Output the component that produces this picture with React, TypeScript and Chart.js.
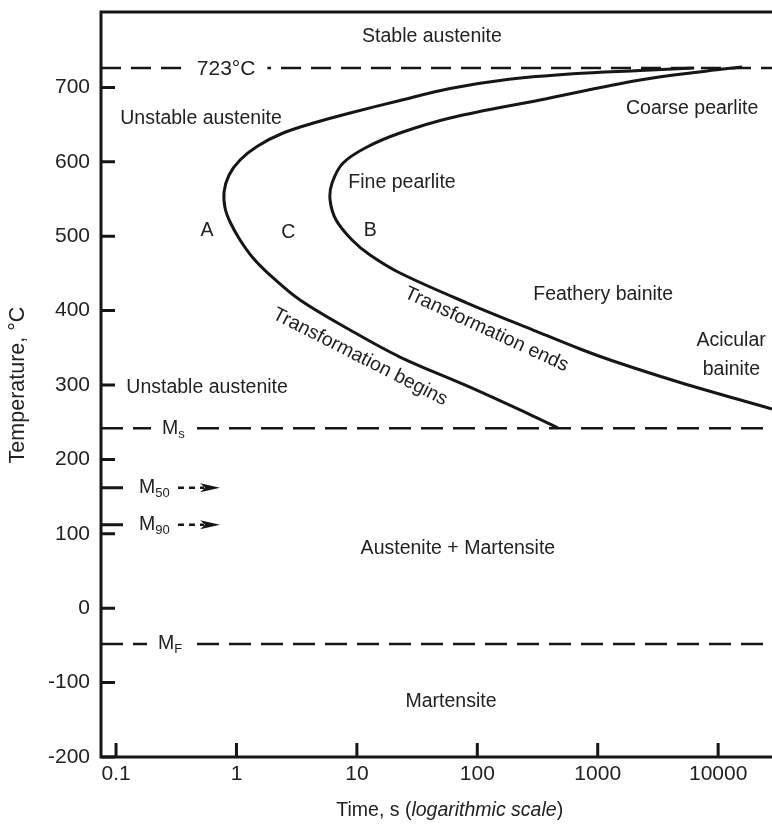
import React, { useEffect, useRef } from 'react';
import { Chart, registerables } from 'chart.js';

Chart.register(...registerables);

const FONT = '"Liberation Sans", Arial, Helvetica, sans-serif';
const INK = '#161616';
const TEXT = '#222222';

// ---- axis ranges & ticks ----
const X_MIN = 0.075;
const X_MAX = 28000;
const Y_MIN = -200;
const Y_MAX = 800;
const xTickValues = [0.1, 1, 10, 100, 1000, 10000];
const xTickLabels = ['0.1', '1', '10', '100', '1000', '10000'];
const yTickValues = [-200, -100, 0, 100, 200, 300, 400, 500, 600, 700];

// ---- transformation begins curve (time s, temperature °C) ----
const beginTime = [6320, 2250, 625, 177, 59.4, 22.8, 8.78, 4.67, 2.44, 1.48, 1.071, 0.868, 0.789, 0.804, 0.885, 1.071, 1.374, 1.9, 3.375, 8.78, 22.8, 82.3, 291, 469];
const beginTemp = [726.1, 722.7, 718.3, 710.6, 698.5, 682.4, 665.6, 653.5, 638.7, 620.6, 602.4, 582.3, 559.4, 537.9, 519.1, 494.9, 470.7, 447.8, 414.2, 373.9, 337.6, 298.7, 258.3, 242.2];

// ---- transformation ends curve ----
const endTime = [15820, 8100, 2250, 332, 59.4, 22.8, 12.15, 7.68, 6.22, 5.99, 6.72, 9.12, 12.87, 22.8, 82.3, 291, 714, 1342, 4834, 28000];
const endTemp = [727.4, 722, 709.9, 683.1, 658.9, 638.7, 619.9, 598.4, 571.5, 548.7, 521.8, 494.9, 474.7, 450.5, 410.2, 373.9, 348.4, 332.3, 303.4, 267.7];

// ---- characteristic temperatures ----
const eutectoidTemp = 726; // drawn line labelled 723 °C
const eutectoidLabel = '723°C';
const msTemp = 242;
const mfTemp = -48;
const m50Temp = 162;
const m90Temp = 112;

// ---- region labels (time, temperature) ----
const regionText = ['Stable austenite', 'Unstable austenite', 'Coarse pearlite', 'Fine pearlite', 'A', 'C', 'B', 'Feathery bainite', 'Acicular', 'bainite', 'Unstable austenite', 'Austenite + Martensite', 'Martensite'];
const regionTime = [42, 0.508, 6080, 23.7, 0.57, 2.69, 12.9, 1110, 12800, 12900, 0.57, 69, 60.5];
const regionTemp = [768, 657.5, 672, 571.5, 508, 505, 508, 421, 359, 320, 296, 80, -125];

// rotated curve labels
const curveText = ['Transformation ends', 'Transformation begins'];
const curveTime = [119, 10.6];
const curveTemp = [374.6, 337.6];
const curveAngle = [24.7, 27];

// martensite labels: main, sub, left time, temperature, has line
const mMain = ['M', 'M', 'M', 'M'];
const mSub = ['s', '50', '90', 'F'];
const mTime = [0.241, 0.155, 0.155, 0.223];
const mTemp = [msTemp, m50Temp, m90Temp, mfTemp];
const mOnLine = [true, false, false, true];

// arrows for M50 / M90
const arrowFrom = [0.327, 0.327];
const arrowTo = [0.731, 0.731];
const arrowTemp = [m50Temp, m90Temp];

const toPts = (xs: number[], ys: number[]) => xs.map((x, i) => ({ x, y: ys[i] }));
const hLine = (T: number) => [{ x: X_MIN, y: T }, { x: X_MAX, y: T }];

const overlay = {
  id: 'overlay',
  afterDraw(chart: any) {
    const { ctx, chartArea: ca, scales } = chart;
    const xs = scales.x;
    const ys = scales.y;
    const X = (v: number) => xs.getPixelForValue(v);
    const Y = (v: number) => ys.getPixelForValue(v);
    ctx.save();

    // frame
    ctx.strokeStyle = INK;
    ctx.lineWidth = 3;
    ctx.setLineDash([]);
    ctx.beginPath();
    ctx.moveTo(ca.left - 1.5, ca.top - 1);
    ctx.lineTo(ca.right, ca.top - 1);
    ctx.moveTo(ca.left, ca.top - 2.5);
    ctx.lineTo(ca.left, ca.bottom + 1.5);
    ctx.moveTo(ca.left - 1.5, ca.bottom);
    ctx.lineTo(ca.right, ca.bottom);
    ctx.stroke();

    // inward ticks
    ctx.beginPath();
    yTickValues.forEach((v) => {
      const y = Y(v);
      ctx.moveTo(ca.left, y);
      ctx.lineTo(ca.left + 14, y);
    });
    [m50Temp, m90Temp].forEach((v) => {
      const y = Y(v);
      ctx.moveTo(ca.left, y);
      ctx.lineTo(ca.left + 22, y);
    });
    xTickValues.forEach((v) => {
      const x = X(v);
      ctx.moveTo(x, ca.bottom);
      ctx.lineTo(x, ca.bottom - 14);
    });
    ctx.stroke();

    ctx.fillStyle = TEXT;
    ctx.textBaseline = 'middle';

    // eutectoid label with gap in dashed line
    ctx.font = `21px ${FONT}`;
    {
      const w = ctx.measureText(eutectoidLabel).width;
      const cx = X(0.82);
      const cy = Y(eutectoidTemp);
      ctx.fillStyle = '#ffffff';
      ctx.fillRect(cx - w / 2 - 12, cy - 8, w + 24, 16);
      ctx.fillStyle = TEXT;
      ctx.textAlign = 'center';
      ctx.fillText(eutectoidLabel, cx, cy + 1);
    }

    // region labels
    ctx.font = `19.5px ${FONT}`;
    ctx.textAlign = 'center';
    regionText.forEach((t, i) => {
      ctx.fillText(t, X(regionTime[i]), Y(regionTemp[i]));
    });

    // rotated labels
    curveText.forEach((t, i) => {
      ctx.save();
      ctx.translate(X(curveTime[i]), Y(curveTemp[i]));
      ctx.rotate((curveAngle[i] * Math.PI) / 180);
      ctx.fillText(t, 0, 0);
      ctx.restore();
    });

    // M labels
    ctx.textAlign = 'left';
    mMain.forEach((m, i) => {
      const x = X(mTime[i]);
      const y = Y(mTemp[i]);
      ctx.font = `19.5px ${FONT}`;
      const wm = ctx.measureText(m).width;
      ctx.font = `13px ${FONT}`;
      const ws = ctx.measureText(mSub[i]).width;
      if (mOnLine[i]) {
        ctx.fillStyle = '#ffffff';
        ctx.fillRect(x - 11, y - 8, wm + ws + 17, 16);
        ctx.fillStyle = TEXT;
      }
      ctx.font = `19.5px ${FONT}`;
      ctx.fillText(m, x, y);
      ctx.font = `13px ${FONT}`;
      ctx.fillText(mSub[i], x + wm, y + 6);
    });

    // arrows
    arrowFrom.forEach((f, i) => {
      const x1 = X(f);
      const x2 = X(arrowTo[i]);
      const y = Y(arrowTemp[i]);
      ctx.strokeStyle = INK;
      ctx.lineWidth = 2.5;
      ctx.setLineDash([6, 5]);
      ctx.beginPath();
      ctx.moveTo(x1, y);
      ctx.lineTo(x2 - 16, y);
      ctx.stroke();
      ctx.setLineDash([]);
      ctx.fillStyle = INK;
      ctx.beginPath();
      ctx.moveTo(x2, y);
      ctx.lineTo(x2 - 20, y - 4.5);
      ctx.lineTo(x2 - 15, y);
      ctx.lineTo(x2 - 20, y + 4.5);
      ctx.closePath();
      ctx.fill();
    });

    // x-axis title with italic part
    ctx.fillStyle = TEXT;
    const parts = [
      { t: 'Time, s (', it: false },
      { t: 'logarithmic scale', it: true },
      { t: ')', it: false },
    ];
    const fontOf = (it: boolean) => `${it ? 'italic ' : ''}19.5px ${FONT}`;
    let total = 0;
    parts.forEach((p) => {
      ctx.font = fontOf(p.it);
      total += ctx.measureText(p.t).width;
    });
    let px = X(59) - total / 2;
    const py = ca.bottom + 54;
    ctx.textAlign = 'left';
    parts.forEach((p) => {
      ctx.font = fontOf(p.it);
      ctx.fillText(p.t, px, py);
      px += ctx.measureText(p.t).width;
    });

    ctx.restore();
  },
};

export default function App() {
  const ref = useRef<HTMLCanvasElement | null>(null);

  useEffect(() => {
    if (!ref.current) return;
    const dashed = (T: number, dash: number[]) => ({
      data: hLine(T),
      borderColor: INK,
      borderWidth: 2.5,
      borderDash: dash,
      pointRadius: 0,
      tension: 0,
      fill: false,
    });
    const chart = new Chart(ref.current, {
      type: 'line',
      data: {
        datasets: [
          {
            label: 'Transformation begins',
            data: toPts(beginTime, beginTemp),
            borderColor: INK,
            borderWidth: 3,
            pointRadius: 0,
            tension: 0.35,
            fill: false,
          },
          {
            label: 'Transformation ends',
            data: toPts(endTime, endTemp),
            borderColor: INK,
            borderWidth: 3,
            pointRadius: 0,
            tension: 0.35,
            fill: false,
          },
          { label: '723', ...dashed(eutectoidTemp, [20, 10]) },
          { label: 'Ms', ...dashed(msTemp, [22, 10]) },
          { label: 'Mf', ...dashed(mfTemp, [22, 10]) },
        ] as any,
      },
      options: {
        responsive: false,
        animation: false,
        devicePixelRatio: 1,
        layout: { padding: { top: 13, left: 0, right: 0, bottom: 0 } },
        plugins: { legend: { display: false }, tooltip: { enabled: false } },
        scales: {
          x: {
            type: 'logarithmic',
            min: X_MIN,
            max: X_MAX,
            position: 'bottom',
            grid: { display: false, drawTicks: false, tickLength: 0 },
            border: { display: false },
            afterBuildTicks: (s: any) => {
              s.ticks = xTickValues.map((v) => ({ value: v }));
            },
            afterFit: (s: any) => {
              s.height = 68;
              s.paddingLeft = 0;
              s.paddingRight = 0;
              s.paddingTop = 0;
              s.paddingBottom = 0;
            },
            ticks: {
              autoSkip: false,
              maxRotation: 0,
              minRotation: 0,
              padding: 5,
              color: TEXT,
              font: { family: FONT, size: 21 },
              callback: (_v: any, i: number) => xTickLabels[i],
            },
          },
          y: {
            type: 'linear',
            min: Y_MIN,
            max: Y_MAX,
            grid: { display: false, drawTicks: false, tickLength: 0 },
            border: { display: false },
            afterBuildTicks: (s: any) => {
              s.ticks = yTickValues.map((v) => ({ value: v }));
            },
            afterFit: (s: any) => {
              s.width = 101;
              s.paddingLeft = 0;
              s.paddingRight = 0;
              s.paddingTop = 0;
              s.paddingBottom = 0;
            },
            ticks: {
              padding: 11,
              color: TEXT,
              font: { family: FONT, size: 21 },
              callback: (v: any) => String(v),
            },
            title: {
              display: true,
              text: 'Temperature, °C',
              color: TEXT,
              font: { family: FONT, size: 21.5 },
              padding: { top: 5, bottom: 0 },
            },
          },
        },
      } as any,
      plugins: [overlay],
    });
    return () => chart.destroy();
  }, []);

  return (
    <div style={{ position: 'absolute', left: 0, top: 0, width: 772, height: 825, background: '#fff' }}>
      <canvas ref={ref} width={772} height={825} style={{ width: 772, height: 825, display: 'block' }} />
    </div>
  );
}
